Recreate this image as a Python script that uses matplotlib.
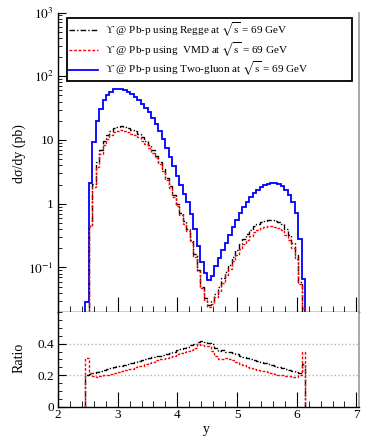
import numpy as np
import matplotlib
matplotlib.use("Agg")
import matplotlib.pyplot as plt
from matplotlib.lines import Line2D
from matplotlib.ticker import FixedLocator, LogLocator, MultipleLocator, NullFormatter

plt.rcParams['font.family'] = ['Liberation Serif', 'DejaVu Serif']
plt.rcParams['mathtext.fontset'] = 'stix'

# rapidity bins (63 equal bins)
y_first, y_last, n_bins = 2.453, 6.145, 63

# two-gluon d sigma/dy (pb), one value per bin
two_gluon = [0.029, 2.1, 9.3, 20, 31, 42, 51, 57, 62, 63,
             63, 60, 56, 52, 48, 43, 37, 32, 27, 22,
             17.8, 13.8, 10.5, 7.6, 5.5, 3.9, 2.75, 1.95, 1.41, 1.05,
             0.69, 0.40, 0.22, 0.12, 0.081, 0.063, 0.074, 0.105, 0.141, 0.19,
             0.245, 0.32, 0.43, 0.56, 0.72, 0.89, 1.07, 1.26, 1.48, 1.66,
             1.82, 1.95, 2.04, 2.09, 2.09, 2.04, 1.91, 1.66, 1.38, 1.05,
             0.71, 0.28, 0.066]

# ratio panel: Regge / two-gluon and VMD / two-gluon
regge_ratio = [0.205, 0.21, 0.216, 0.222, 0.227, 0.233, 0.239, 0.245, 0.25, 0.256,
               0.262, 0.268, 0.273, 0.278, 0.284, 0.29, 0.296, 0.302, 0.307, 0.313,
               0.319, 0.324, 0.33, 0.336, 0.343, 0.35, 0.358, 0.366, 0.374, 0.382,
               0.39, 0.40, 0.412, 0.418, 0.41, 0.405, 0.40, 0.37, 0.355, 0.357,
               0.35, 0.345, 0.338, 0.332, 0.325, 0.318, 0.312, 0.305, 0.298, 0.292,
               0.285, 0.279, 0.272, 0.266, 0.26, 0.254, 0.248, 0.242, 0.236, 0.229,
               0.222, 0.215, 0.27]
vmd_ratio = [0.31, 0.215, 0.195, 0.19, 0.195, 0.2, 0.205, 0.21, 0.215, 0.22,
             0.226, 0.231, 0.237, 0.243, 0.25, 0.256, 0.262, 0.27, 0.278, 0.286,
             0.294, 0.3, 0.306, 0.312, 0.318, 0.325, 0.332, 0.339, 0.346, 0.353,
             0.36, 0.37, 0.395, 0.39, 0.387, 0.385, 0.356, 0.325, 0.30, 0.305,
             0.31, 0.30, 0.294, 0.283, 0.272, 0.263, 0.255, 0.248, 0.241, 0.235,
             0.23, 0.225, 0.218, 0.212, 0.206, 0.203, 0.2, 0.198, 0.193, 0.19,
             0.19, 0.2, 0.345]

labels = [r'ϒ @ Pb-p using Regge at $\sqrt{\rm s}$ = 69 GeV',
          r'ϒ @ Pb-p using  VMD at $\sqrt{\rm s}$ = 69 GeV',
          r'ϒ @ Pb-p using Two-gluon at $\sqrt{\rm s}$ = 69 GeV']

edges = np.linspace(y_first, y_last, n_bins + 1)
tg = np.array(two_gluon)
regge = tg * np.array(regge_ratio)
vmd = tg * np.array(vmd_ratio)

black_ls = (0, (4, 1.5, 1, 1.5))
red_ls = (0, (2, 1.3))

fig = plt.figure(figsize=(3.74, 4.47), dpi=100)
ax = fig.add_axes([0.155, 0.302, 0.806, 0.670])
axr = fig.add_axes([0.155, 0.0895, 0.806, 0.2125])

ax.stairs(tg, edges, baseline=1e-4, color='blue', lw=1.3, zorder=3)
ax.stairs(regge, edges, baseline=1e-4, color='black', lw=1.0, ls=black_ls, zorder=4)
ax.stairs(vmd, edges, baseline=1e-4, color='red', lw=1.0, ls=red_ls, zorder=5)

ax.set_yscale('log')
ax.set_ylim(0.02, 1000)
ax.set_xlim(2, 7.05)
ax.yaxis.set_major_locator(FixedLocator([0.1, 1, 10, 100, 1000]))
ax.set_yticklabels([r'$10^{-1}$', '1', '10', r'$10^{2}$', r'$10^{3}$'])
ax.yaxis.set_minor_locator(LogLocator(base=10, subs=np.arange(2, 10)))
ax.yaxis.set_minor_formatter(NullFormatter())
ax.xaxis.set_major_locator(MultipleLocator(1))
ax.xaxis.set_minor_locator(MultipleLocator(0.2))
ax.tick_params(axis='x', labelbottom=False)
ax.set_ylabel('dσ/dy (pb)', fontsize=10)
ax.yaxis.set_label_coords(-0.106, 0.53)

handles = [Line2D([], [], color='black', lw=1.0, ls=black_ls),
           Line2D([], [], color='red', lw=1.0, ls=red_ls),
           Line2D([], [], color='blue', lw=1.3)]
leg = ax.legend(handles, labels, loc='upper left', bbox_to_anchor=(0.029, 0.981, 0.945, 0.0),
                mode='expand', fontsize=8.0, frameon=True, fancybox=False, framealpha=1,
                handlelength=2.6, handletextpad=0.6, labelspacing=0.12,
                borderpad=0.22, borderaxespad=0)
leg.get_frame().set_edgecolor('black')
leg.get_frame().set_linewidth(1.3)

# ratio panel
axr.axhline(0.2, color='#b5b5b5', ls=':', lw=1.0, zorder=1)
axr.axhline(0.4, color='#b5b5b5', ls=':', lw=1.0, zorder=1)
axr.stairs(regge_ratio, edges, baseline=0, color='black', lw=1.0, ls=black_ls, zorder=4)
axr.stairs(vmd_ratio, edges, baseline=0, color='red', lw=1.0, ls=red_ls, zorder=5)
axr.set_xlim(2, 7.05)
axr.set_ylim(0, 0.6)
axr.yaxis.set_major_locator(FixedLocator([0, 0.2, 0.4]))
axr.set_yticklabels(['0', '0.2', '0.4'])
axr.yaxis.set_minor_locator(MultipleLocator(0.05))
axr.xaxis.set_major_locator(MultipleLocator(1))
axr.xaxis.set_minor_locator(MultipleLocator(0.2))
axr.set_ylabel('Ratio', fontsize=10)
axr.yaxis.set_label_coords(-0.106, 0.52)
axr.set_xlabel('y', fontsize=10)
axr.xaxis.set_label_coords(0.494, -0.17)

for a in (ax, axr):
    a.tick_params(which='both', direction='in', top=False, right=False, labelsize=9.5)
    a.tick_params(axis='y', which='major', length=6, pad=3)
    a.tick_params(axis='y', which='minor', length=3)
    a.tick_params(axis='x', which='major', length=11, pad=1.5)
    a.tick_params(axis='x', which='minor', length=4.5)
    a.spines['top'].set_visible(False)
    a.spines['right'].set_color('#999999')
    a.spines['right'].set_linewidth(1.2)
    a.spines['left'].set_linewidth(1.0)
    a.spines['bottom'].set_linewidth(1.0)

fig.savefig('out.png', dpi=100)
